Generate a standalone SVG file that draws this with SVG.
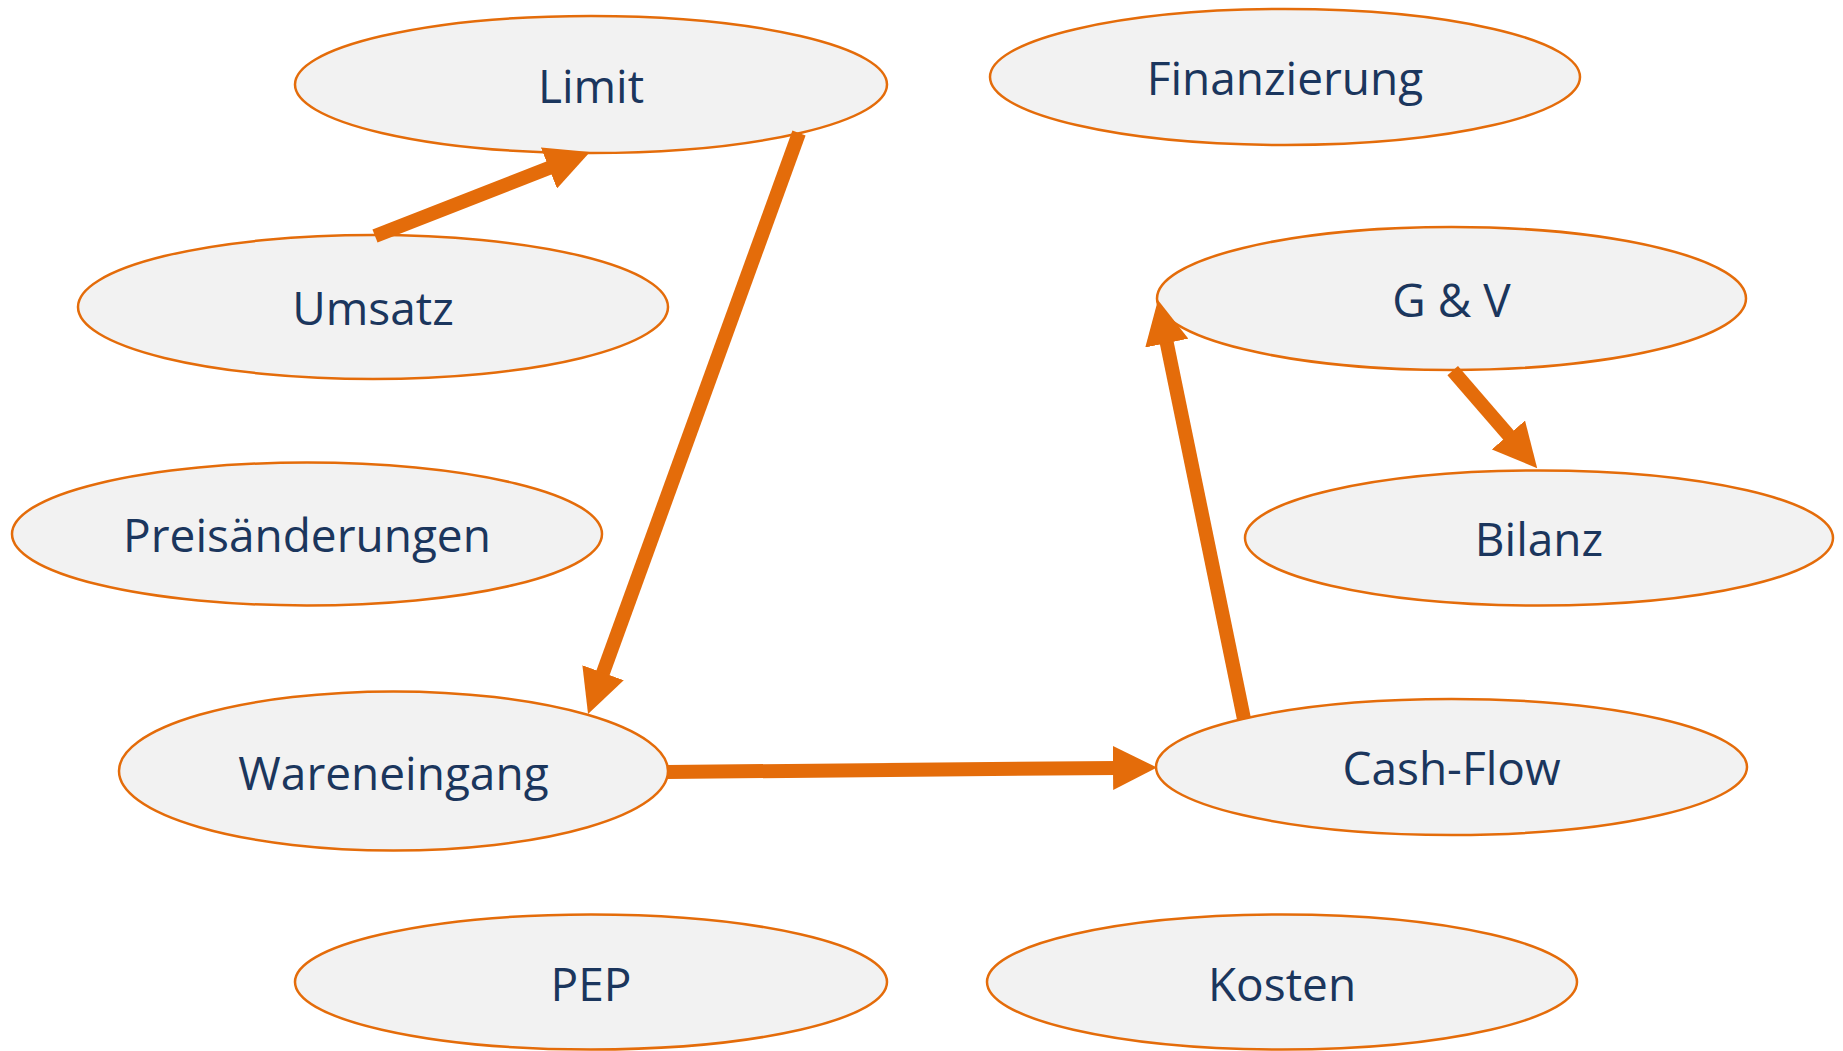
<svg xmlns="http://www.w3.org/2000/svg" width="1843" height="1051" viewBox="0 0 1843 1051">
<style>
.node ellipse{fill:#F2F2F2;stroke:#E46C0A;stroke-width:2.5}
.node text{font-family:"Open Sans","Noto Sans","DejaVu Sans",sans-serif;font-size:46px;fill:#1B365D;text-anchor:middle}
.conn line{stroke:#E46C0A;stroke-width:14;stroke-linecap:butt;marker-end:url(#arr)}
</style>
<defs>
<marker id="arr" viewBox="0 0 44 44" markerUnits="userSpaceOnUse" markerWidth="44" markerHeight="44" refX="4" refY="22" orient="auto">
<path d="M0,0 L44,22 L0,44 Z" fill="#E46C0A"/>
</marker>
</defs>
<rect width="1843" height="1051" fill="#FFFFFF"/>
<g id="n-limit" class="node"><ellipse cx="591" cy="84.5" rx="296" ry="68.5"/><text x="591" y="102.5">Limit</text></g>
<g id="n-finanzierung" class="node"><ellipse cx="1285" cy="77" rx="295" ry="68"/><text x="1285" y="95">Finanzierung</text></g>
<g id="n-umsatz" class="node"><ellipse cx="373" cy="307" rx="295" ry="72"/><text x="373" y="325">Umsatz</text></g>
<g id="n-guv" class="node"><ellipse cx="1451.5" cy="298.5" rx="294.5" ry="71.5"/><text x="1451.5" y="316.5">G &amp; V</text></g>
<g id="n-preis" class="node"><ellipse cx="307" cy="534" rx="295" ry="71.5"/><text x="307" y="552">Preisänderungen</text></g>
<g id="n-bilanz" class="node"><ellipse cx="1539" cy="538" rx="294" ry="67.5"/><text x="1539" y="556">Bilanz</text></g>
<g id="n-waren" class="node"><ellipse cx="393.5" cy="771" rx="274.5" ry="79.5"/><text x="393.5" y="789.5">Wareneingang</text></g>
<g id="n-cashflow" class="node"><ellipse cx="1451.5" cy="767" rx="295.5" ry="68"/><text x="1451.5" y="785">Cash-Flow</text></g>
<g id="n-pep" class="node"><ellipse cx="591" cy="982" rx="296" ry="67.5"/><text x="591" y="1000.5">PEP</text></g>
<g id="n-kosten" class="node"><ellipse cx="1282" cy="982" rx="295" ry="67.5"/><text x="1282" y="1000.5">Kosten</text></g>
<g id="connectors" class="conn">
<line x1="375" y1="236" x2="552.7" y2="166.6"/>
<line x1="799" y1="133" x2="601.7" y2="676.4"/>
<line x1="667" y1="772" x2="1117" y2="767.9"/>
<line x1="1244" y1="719" x2="1166" y2="339.2"/>
<line x1="1452.7" y1="370.7" x2="1511" y2="438"/>
</g>
</svg>
